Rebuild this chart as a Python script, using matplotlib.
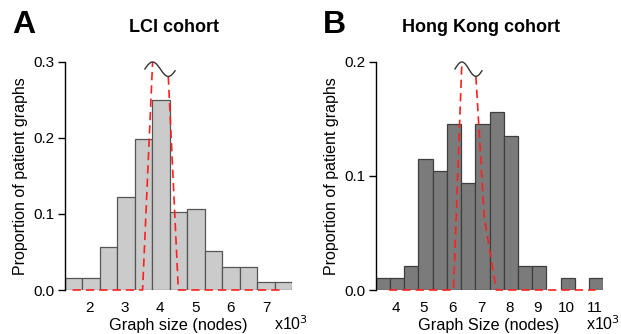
import numpy as np
import matplotlib
matplotlib.use('Agg')
import matplotlib.pyplot as plt

plt.rcParams['font.family'] = ['Liberation Sans', 'DejaVu Sans']

#### Data ####

# LCI cohort: histogram of graph sizes (bin edges in nodes)
lci_edges = np.linspace(1300, 7735, 14)
lci_props = [0.0153, 0.0153, 0.056, 0.1224, 0.199, 0.25, 0.102,
             0.107, 0.051, 0.0306, 0.0306, 0.0102, 0.0102]
lci_ticks = [2000, 3000, 4000, 5000, 6000, 7000]
lci_ticklabels = ['2', '3', '4', '5', '6', '7']
lci_yticks = [0.0, 0.1, 0.2, 0.3]
# red dashed fit, split by the axis break
lci_fit_left_x = [1527, 3509, 3792]
lci_fit_left_y = [0.0, 0.0, 0.3]
lci_fit_right_x = [4236, 4520, 7497]
lci_fit_right_y = [0.281, 0.0, 0.0]

# Hong Kong cohort
hk_edges = np.linspace(3300, 11300, 17)
hk_props = [0.0104, 0.0104, 0.0208, 0.1146, 0.1042, 0.1458, 0.0938, 0.1458,
            0.1563, 0.1354, 0.0208, 0.0208, 0.0, 0.0104, 0.0, 0.0104]
hk_ticks = [4000, 5000, 6000, 7000, 8000, 9000, 10000, 11000]
hk_ticklabels = ['4', '5', '6', '7', '8', '9', '10', '11']
hk_yticks = [0.0, 0.1, 0.2]
hk_fit_left_x = [3765, 6035, 6329]
hk_fit_left_y = [0.0, 0.0, 0.2]
hk_fit_right_x = [6822, 7114, 7538, 11027]
hk_fit_right_y = [0.1874, 0.064, 0.0, 0.0]


def squiggle(ax, x0, x1, x_peak, x_trough, y_peak, y_trough):
    # axis break symbol: one sine wave joining the two halves of the fit
    period = 2 * (x_trough - x_peak)
    mid = (y_peak + y_trough) / 2
    amp = (y_peak - y_trough) / 2
    xs = np.linspace(x0, x1, 100)
    ys = mid + amp * np.sin(2 * np.pi * (xs - x_peak) / period + np.pi / 2)
    ax.plot(xs, ys, color='#333333', lw=1.0, clip_on=False, zorder=5)


def panel(ax, edges, props, fc, ec, ticks, ticklabels, yticks,
          fl_x, fl_y, fr_x, fr_y):
    edges = np.asarray(edges)
    props = np.asarray(props)
    width = edges[1] - edges[0]
    keep = props > 0
    ax.bar(edges[:-1][keep], props[keep], width=width, align='edge',
           color=fc, edgecolor=ec, linewidth=0.9, zorder=2)
    dash = dict(color='#ff2020', lw=1.2, dashes=(5, 3), clip_on=False, zorder=4)
    ax.plot(fl_x, fl_y, **dash)
    ax.plot(fr_x, fr_y, **dash)
    squiggle(ax, fl_x[-1] - (fr_x[0] - fl_x[-1]) * 0.49, fr_x[0] + (fr_x[0] - fl_x[-1]) * 0.43,
             fl_x[-1], fr_x[0], fl_y[-1], fr_y[0])

    ax.set_xlim(edges[0], edges[-1])
    ax.set_ylim(0, yticks[-1])
    ax.set_xticks(ticks)
    ax.set_xticklabels(ticklabels)
    ax.set_yticks(yticks)
    ax.set_yticklabels(['{:.1f}'.format(t) for t in yticks])
    ax.tick_params(axis='x', length=0, pad=8, labelsize=11)
    ax.tick_params(axis='y', length=5, width=1, pad=2, labelsize=11, direction='out')
    for s in ['top', 'right', 'bottom']:
        ax.spines[s].set_visible(False)
    ax.spines['left'].set_linewidth(1.0)
    ax.set_ylabel('Proportion of patient graphs', fontsize=11.5, labelpad=4)


fig = plt.figure(figsize=(6.21, 3.34), dpi=100)
W, H = 621, 334

ax1 = fig.add_axes([64.5 / W, 44 / H, 227.5 / W, 228 / H])
panel(ax1, lci_edges, lci_props, '#cbcbcb', '#555555', lci_ticks, lci_ticklabels,
      lci_yticks, lci_fit_left_x, lci_fit_left_y, lci_fit_right_x, lci_fit_right_y)

ax2 = fig.add_axes([375.7 / W, 44 / H, 227.6 / W, 228 / H])
panel(ax2, hk_edges, hk_props, '#7b7b7b', '#3f3f3f', hk_ticks, hk_ticklabels,
      hk_yticks, hk_fit_left_x, hk_fit_left_y, hk_fit_right_x, hk_fit_right_y)

# x labels and multipliers
fig.text(178 / W, 4 / H, 'Graph size (nodes)', ha='center', va='baseline', fontsize=11.7)
fig.text(274 / W, 4 / H, r'x10$^3$', ha='left', va='baseline', fontsize=11.5)
fig.text(489 / W, 4 / H, 'Graph Size (nodes)', ha='center', va='baseline', fontsize=11.7)
fig.text(586 / W, 4 / H, r'x10$^3$', ha='left', va='baseline', fontsize=11.5)

# titles and panel letters
fig.text(174 / W, (H - 32) / H, 'LCI cohort', ha='center', va='baseline',
         fontsize=13, fontweight='bold')
fig.text(481 / W, (H - 32) / H, 'Hong Kong cohort', ha='center', va='baseline',
         fontsize=13, fontweight='bold')
fig.text(12 / W, (H - 33) / H, 'A', ha='left', va='baseline', fontsize=23, fontweight='bold')
fig.text(323 / W, (H - 33) / H, 'B', ha='left', va='baseline', fontsize=23, fontweight='bold')

fig.savefig('out.png', dpi=100)
